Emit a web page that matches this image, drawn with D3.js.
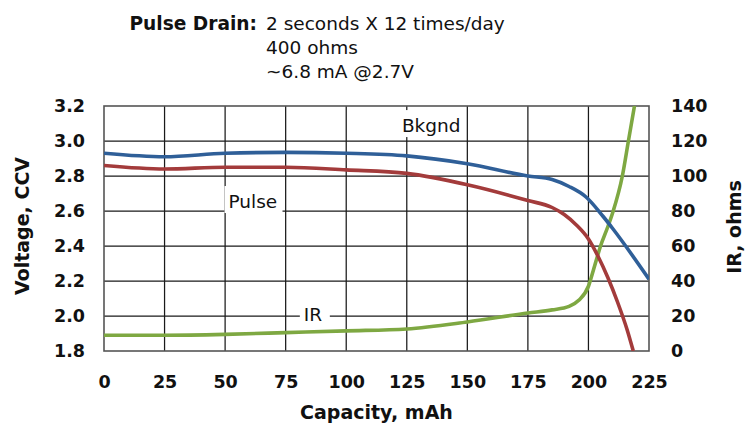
<!DOCTYPE html>
<html>
<head>
<meta charset="utf-8">
<script src="https://cdn.jsdelivr.net/npm/d3@7"></script>
<style>
  body { margin: 0; background: #fff; }
  text { font-family: "DejaVu Sans", sans-serif; fill: #111; }
  .grid line { stroke: #1a1a1a; stroke-width: 1.25px; }
  .frame { fill: none; stroke: #555; stroke-width: 1.6px; }
</style>
</head>
<body>
<svg id="chart" width="745" height="426"></svg>
<script>
// values
const capBkgnd  = [0, 25, 50, 75, 100, 125, 150, 175, 185, 192, 199, 206, 210, 225];
const voltBkgnd = [2.93, 2.91, 2.93, 2.935, 2.93, 2.915, 2.87, 2.80, 2.78, 2.74, 2.68, 2.57, 2.50, 2.21];

const capPulse  = [0, 25, 50, 75, 100, 125, 150, 175, 185, 190, 195, 200, 204, 208, 212, 216, 218.5];
const voltPulse = [2.86, 2.84, 2.85, 2.85, 2.835, 2.815, 2.75, 2.66, 2.62, 2.58, 2.52, 2.44, 2.34, 2.22, 2.08, 1.92, 1.80];

const capIR   = [0, 25, 50, 75, 100, 125, 150, 175, 185, 192, 196, 200, 202, 205, 208, 210, 214, 216.5, 219];
const irOhms  = [9, 9, 9.5, 10.5, 11.5, 12.6, 16.6, 21.7, 23.5, 25.5, 29, 37, 46, 60, 71, 79, 100, 120, 140];

const xTicks  = [0, 25, 50, 75, 100, 125, 150, 175, 200, 225];
const yTicks  = [1.8, 2.0, 2.2, 2.4, 2.6, 2.8, 3.0, 3.2];
const yRTicks = [0, 20, 40, 60, 80, 100, 120, 140];

const titleLines = ["2 seconds X 12 times/day", "400 ohms", "~6.8 mA @2.7V"];

const svg = d3.select("#chart");
const pLeft = 104, pRight = 649, pTop = 106, pBottom = 351;

const x  = d3.scaleLinear().domain([0, 225]).range([pLeft, pRight]);
const y  = d3.scaleLinear().domain([1.8, 3.2]).range([pBottom, pTop]);
const yR = d3.scaleLinear().domain([0, 140]).range([pBottom, pTop]);

// title block
svg.append("text").attr("x", 257).attr("y", 30).attr("text-anchor", "end")
  .attr("font-weight", "bold").attr("font-size", 18.6).text("Pulse Drain:");
svg.selectAll(".tline").data(titleLines).enter().append("text")
  .attr("class", "tline")
  .attr("x", 266).attr("y", (d, i) => 30 + i * 24)
  .attr("font-size", 18.5).text(d => d);

svg.append("defs").append("clipPath").attr("id", "plotclip")
  .append("rect").attr("x", pLeft).attr("y", pTop).attr("width", pRight - pLeft).attr("height", pBottom - pTop);

// grid
const grid = svg.append("g").attr("class", "grid");
xTicks.slice(1, -1).forEach(d => {
  grid.append("line").attr("x1", x(d)).attr("x2", x(d)).attr("y1", pTop).attr("y2", pBottom);
});
yTicks.slice(1, -1).forEach(d => {
  grid.append("line").attr("x1", pLeft).attr("x2", pRight).attr("y1", y(d)).attr("y2", y(d));
});

svg.append("rect").attr("class", "frame")
  .attr("x", pLeft).attr("y", pTop).attr("width", pRight - pLeft).attr("height", pBottom - pTop);

// label boxes (drawn before lines so curves stay on top)
const labels = [
  {t: "Bkgnd", cap: 123, v: 3.051, w: 66},
  {t: "Pulse", cap: 51.4, v: 2.617, w: 58},
  {t: "IR",    cap: 82.5, v: 1.971, w: 30}
];
labels.forEach(l => {
  svg.append("rect").attr("x", x(l.cap) - 4).attr("y", y(l.v) - 22)
    .attr("width", l.w).attr("height", 27).attr("fill", "#fff");
  svg.append("text").attr("x", x(l.cap)).attr("y", y(l.v)).attr("font-size", 18.5).text(l.t);
});

// series
const plot = svg.append("g").attr("clip-path", "url(#plotclip)");
const addLine = (xs, ys, scale, color) => {
  const line = d3.line().x(d => x(d[0])).y(d => scale(d[1])).curve(d3.curveMonotoneX);
  plot.append("path").datum(d3.zip(xs, ys)).attr("d", line)
    .attr("fill", "none").attr("stroke", color).attr("stroke-width", 3.6)
    .attr("stroke-linejoin", "round");
};
addLine(capIR, irOhms, yR, "#7ea842");
addLine(capPulse, voltPulse, y, "#a33b3b");
addLine(capBkgnd, voltBkgnd, y, "#2f5f98");

// axes (labels only, frame and grid drawn above)
const xAxis = svg.append("g").attr("transform", `translate(0,${pBottom})`)
  .call(d3.axisBottom(x).tickValues(xTicks).tickSize(0).tickPadding(25));
const yAxis = svg.append("g").attr("transform", `translate(${pLeft},0)`)
  .call(d3.axisLeft(y).tickValues(yTicks).tickFormat(d3.format(".1f")).tickSize(0).tickPadding(19));
const yRAxis = svg.append("g").attr("transform", `translate(${pRight},0)`)
  .call(d3.axisRight(yR).tickValues(yRTicks).tickSize(0).tickPadding(22));
[xAxis, yAxis, yRAxis].forEach(g => {
  g.select(".domain").remove();
  g.selectAll("text").attr("font-family", "DejaVu Sans").attr("font-size", 17.5)
    .attr("font-weight", "bold").attr("fill", "#111");
});

// axis titles
svg.append("text").attr("x", (pLeft + pRight) / 2).attr("y", 419).attr("text-anchor", "middle")
  .attr("font-weight", "bold").attr("font-size", 19).text("Capacity, mAh");
svg.append("text").attr("transform", "translate(29,226) rotate(-90)").attr("text-anchor", "middle")
  .attr("font-weight", "bold").attr("font-size", 19).text("Voltage, CCV");
svg.append("text").attr("transform", "translate(741,227) rotate(-90)").attr("text-anchor", "middle")
  .attr("font-weight", "bold").attr("font-size", 19).text("IR, ohms");
</script>
</body>
</html>
